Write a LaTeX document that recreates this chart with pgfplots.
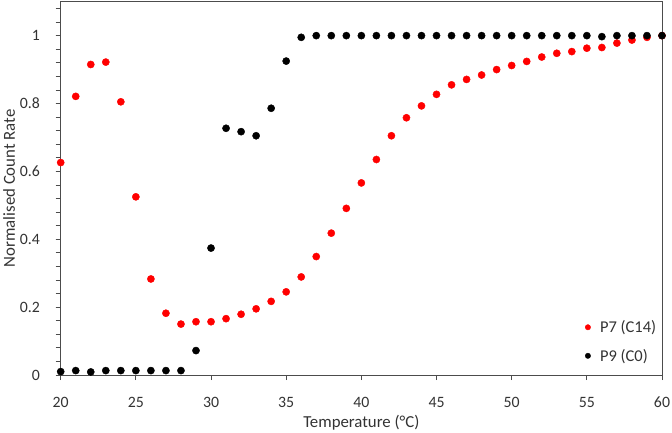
\documentclass[border=0pt]{standalone}
\usepackage{pgfplots}
\pgfplotsset{compat=1.18}
\usepackage{fontspec}
\setmainfont{Carlito}
\begin{document}
\begin{tikzpicture}
\begin{axis}[
  scale only axis,
  width=601.3bp, height=373.3bp,
  xmin=20, xmax=60, ymin=0, ymax=1.1,
  clip=false,
  axis line style={black!70, line width=0.8bp},
  tick style={black!70, line width=0.8bp},
  tick align=outside,
  tick pos=left,
  major tick length=5bp, minor tick length=5bp,
  xtick={20,25,...,60},
  ytick={0,0.2,0.4,0.6,0.8,1},
  yticklabels={0,0.2,0.4,0.6,0.8,1},
  minor ytick={0.04,0.08,...,1.09},
  /pgf/number format/assume math mode=true,
  tick label style={font=\fontsize{15.8bp}{18bp}\selectfont, text=black!80},
  xticklabel style={anchor=base, inner sep=0pt, yshift=-27.7bp},
  yticklabel style={anchor=east, inner sep=0pt, xshift=-15.7bp},
  label style={font=\fontsize{16.8bp}{19bp}\selectfont, text=black!80},
  xlabel={Temperature (°C)},
  ylabel={Normalised Count Rate},
  xlabel style={at={(axis description cs:0.5,-0.1412)}, anchor=base, inner sep=0pt},
  ylabel style={at={(axis description cs:-0.086,0.5)}, anchor=center, rotate=0, inner sep=0pt},
  legend style={draw=none, fill=none, font=\fontsize{16.5bp}{19bp}\selectfont, text=black!80,
    at={(axis description cs:0.867,0.022)}, anchor=south west, row sep=11bp},
  legend cell align=left,
  legend image code/.code={\node[draw=none, fill=none, inner sep=0pt, minimum width=0.3cm, minimum height=0.1cm] at (0.15cm,0cm) {};\draw[#1, mark size=2.7bp] plot coordinates {(0.1cm,0cm)};},
]
\addplot[only marks, mark=*, mark size=3.6bp, red, mark options={draw=red, fill=red}] coordinates {
(20,0.626) (21,0.821) (22,0.915) (23,0.922) (24,0.805) (25,0.525) (26,0.283) (27,0.182)
(28,0.150) (29,0.157) (30,0.157) (31,0.166) (32,0.179) (33,0.195) (34,0.217) (35,0.245)
(36,0.289) (37,0.349) (38,0.418) (39,0.491) (40,0.566) (41,0.635) (42,0.705) (43,0.758)
(44,0.793) (45,0.827) (46,0.855) (47,0.871) (48,0.884) (49,0.900) (50,0.912) (51,0.924)
(52,0.937) (53,0.948) (54,0.953) (55,0.963) (56,0.965) (57,0.978) (58,0.987) (59,0.995)
(60,1.000)
};
\addlegendentry{P7 (C14)}
\addplot[only marks, mark=*, mark size=3.6bp, black, mark options={draw=black, fill=black}] coordinates {
(20,0.010) (21,0.013) (22,0.009) (23,0.013) (24,0.013) (25,0.013) (26,0.013) (27,0.013)
(28,0.013) (29,0.072) (30,0.374) (31,0.727) (32,0.717) (33,0.705) (34,0.786) (35,0.925)
(36,0.995) (37,1.000) (38,1.000) (39,1.000) (40,1.000) (41,1.000) (42,1.000) (43,1.000)
(44,1.000) (45,1.000) (46,1.000) (47,1.000) (48,1.000) (49,1.000) (50,1.000) (51,1.000)
(52,1.000) (53,1.000) (54,1.000) (55,1.000) (56,0.997) (57,1.000) (58,1.000) (59,1.000)
(60,1.000)
};
\addlegendentry{P9 (C0)}
\coordinate (sw) at (rel axis cs:0,0);
\coordinate (ne) at (rel axis cs:1,1);
\end{axis}
\path ([xshift=-60.7bp,yshift=-58bp]sw) rectangle ([xshift=10bp,yshift=1.7bp]ne);
\end{tikzpicture}
\end{document}
